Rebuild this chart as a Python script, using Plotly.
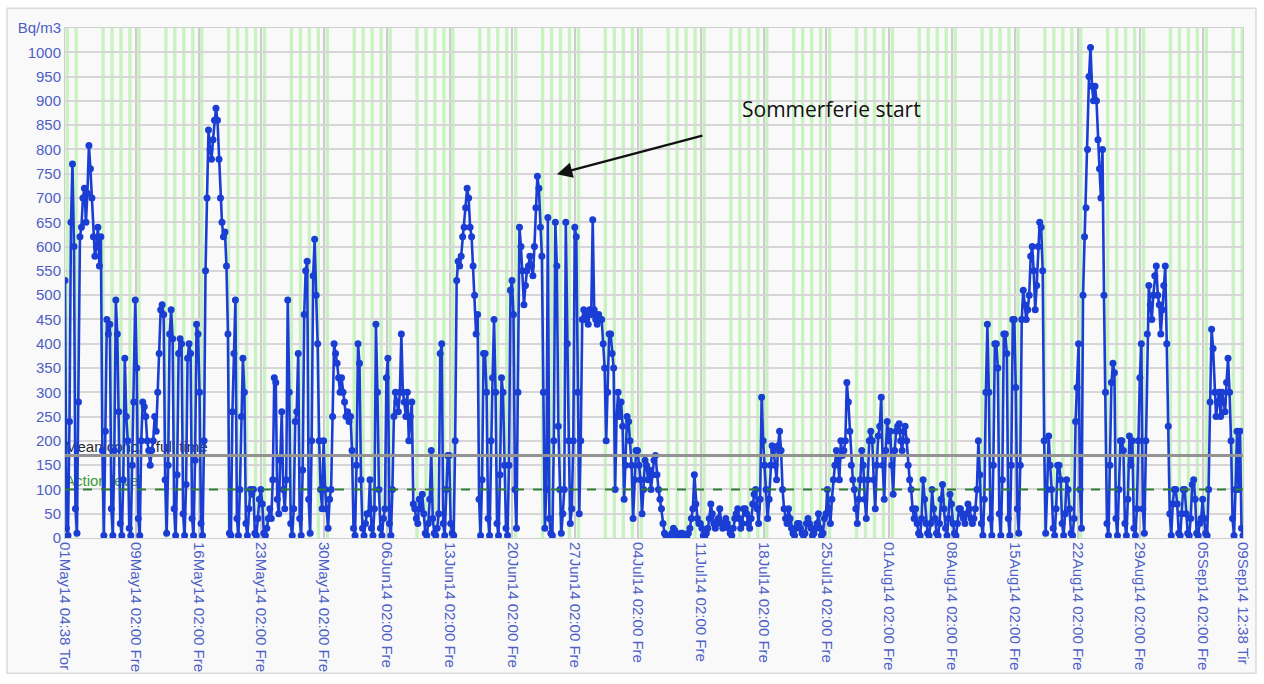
import pandas as pd
import plotly.graph_objects as go

# Radon concentration (Bq/m3), one reading every 4 hours at hh:38
# (00:38, 04:38, 08:38, 12:38, 16:38, 20:38), one list per calendar week.
week_18 = [530, 20, 5, 240, 650,               # Thu 1 May from 04:38
           770, 600, 60, 10, 280, 620,
           640, 700, 720, 650, 710, 808,
           760, 700, 620, 580, 600, 640]
week_19 = [560, 620, 180, 5, 220, 450,
           420, 440, 60, 5, 180, 490,
           420, 260, 30, 5, 120, 370,
           250, 200, 20, 5, 150, 280,
           490, 350, 40, 5, 200, 280,
           270, 250, 200, 180, 150, 180,
           200, 250, 220, 300, 380, 470]
week_20 = [480, 460, 120, 10, 150, 420,
           470, 410, 60, 5, 130, 380,
           410, 400, 50, 5, 110, 370,
           400, 380, 40, 5, 160, 440,
           420, 300, 30, 5, 200, 550,
           700, 840, 800, 780, 820, 860,
           885, 860, 780, 700, 650, 620]
week_21 = [630, 560, 420, 10, 5, 260,
           380, 490, 40, 5, 100, 250,
           370, 300, 30, 5, 60, 100,
           90, 100, 10, 5, 40, 80,
           100, 70, 10, 5, 20, 40,
           60, 40, 120, 330, 320, 80,
           50, 160, 260, 100, 60, 120]
week_22 = [490, 300, 30, 5, 60, 240,
           260, 380, 40, 5, 140, 460,
           550, 570, 80, 10, 200, 540,
           615, 500, 400, 200, 100, 60,
           200, 100, 60, 20, 80, 100,
           250, 400, 380, 360, 330, 300,
           330, 300, 280, 250, 260, 240]
week_23 = [250, 180, 20, 5, 150, 400,
           360, 120, 20, 5, 30, 50,
           50, 120, 20, 5, 60, 440,
           300, 100, 20, 5, 40, 60,
           330, 370, 30, 5, 100, 250,
           300, 280, 260, 300, 420, 300,
           280, 250, 300, 200, 250, 280]
week_24 = [70, 60, 40, 30, 80, 60,
           90, 50, 10, 5, 30, 80,
           180, 40, 10, 5, 20, 50,
           380, 400, 30, 5, 100, 170,
           170, 30, 10, 5, 200, 530,
           570, 560, 580, 620, 640, 680,
           720, 700, 640, 620, 560, 500]
week_25 = [420, 460, 80, 5, 120, 380,
           380, 300, 40, 5, 200, 330,
           450, 300, 30, 5, 130, 330,
           300, 150, 20, 5, 150, 510,
           530, 460, 100, 20, 300, 640,
           600, 550, 480, 520, 550, 560,
           580, 560, 540, 600, 680, 745]
week_26 = [720, 640, 580, 300, 20, 100,
           660, 40, 10, 5, 200, 650,
           560, 230, 100, 10, 50, 100,
           650, 400, 200, 30, 60, 200,
           640, 620, 300, 50, 200, 450,
           470, 450, 460, 440, 470, 460,
           655, 470, 450, 440, 460, 450]
week_27 = [450, 400, 350, 200, 300, 420,
           420, 380, 350, 100, 250, 300,
           250, 280, 230, 80, 150, 250,
           240, 200, 150, 40, 120, 180,
           180, 150, 120, 50, 100, 160,
           150, 120, 140, 100, 130, 160,
           170, 130, 100, 80, 60, 30]
week_28 = [10, 5, 0, 0, 5, 10,
           20, 15, 5, 0, 5, 10,
           10, 5, 0, 0, 10, 20,
           40, 60, 130, 70, 40, 30,
           30, 20, 5, 0, 10, 20,
           40, 70, 50, 30, 20, 30,
           40, 60, 30, 20, 30, 40]
week_29 = [30, 20, 10, 5, 20, 40,
           50, 60, 40, 20, 30, 60,
           60, 50, 30, 20, 40, 70,
           90, 100, 60, 30, 80, 290,
           200, 150, 100, 40, 80, 150,
           190, 180, 150, 120, 190, 220,
           180, 100, 60, 40, 30, 60]
week_30 = [40, 20, 10, 5, 20, 30,
           30, 20, 10, 5, 10, 30,
           40, 30, 20, 5, 10, 20,
           30, 50, 20, 5, 10, 40,
           50, 100, 60, 30, 80, 120,
           150, 180, 160, 120, 200, 170,
           180, 200, 320, 280, 220, 150]
week_31 = [120, 100, 60, 30, 80, 120,
           180, 150, 80, 40, 120, 200,
           220, 200, 120, 60, 150, 210,
           230, 290, 150, 80, 180, 240,
           200, 220, 150, 90, 180, 220,
           230, 235, 200, 180, 220, 230,
           200, 150, 120, 100, 60, 40]
week_32 = [60, 30, 10, 5, 40, 120,
           80, 30, 10, 5, 30, 100,
           60, 40, 10, 5, 30, 80,
           110, 60, 20, 5, 40, 90,
           70, 30, 10, 5, 30, 60,
           60, 50, 40, 30, 50, 70,
           60, 40, 30, 40, 60, 100]
week_33 = [200, 130, 30, 5, 80, 300,
           440, 300, 40, 5, 150, 400,
           400, 350, 50, 5, 120, 420,
           420, 380, 40, 5, 150, 450,
           450, 310, 60, 10, 150, 450,
           510, 480, 450, 470, 500, 580,
           600, 550, 470, 520, 600, 650]
week_34 = [640, 550, 200, 10, 100, 210,
           150, 100, 20, 5, 60, 150,
           150, 120, 30, 5, 50, 120,
           100, 60, 10, 5, 40, 240,
           310, 400, 100, 20, 500, 620,
           680, 800, 950, 1010, 930, 900,
           930, 900, 820, 760, 700, 800]
week_35 = [500, 300, 30, 5, 150, 320,
           360, 340, 40, 5, 100, 200,
           200, 180, 30, 5, 80, 210,
           150, 200, 20, 5, 60, 200,
           330, 400, 60, 10, 200, 420,
           520, 480, 450, 500, 540, 560,
           500, 480, 420, 470, 520, 560]
week_36 = [400, 230, 50, 5, 70, 100,
           100, 70, 10, 5, 50, 100,
           100, 50, 10, 5, 40, 110,
           120, 80, 10, 5, 30, 40,
           80, 40, 10, 5, 100, 280,
           430, 390, 300, 250, 280, 300,
           250, 300, 280, 260, 320, 370]
week_37 = [300, 200, 40, 5, 100, 220,
           100, 220, 20, 5]                    # Tue 9 Sep until 12:38

weeks = [week_18, week_19, week_20, week_21, week_22, week_23, week_24,
         week_25, week_26, week_27, week_28, week_29, week_30, week_31,
         week_32, week_33, week_34, week_35, week_36, week_37]

# Reference levels
mean_conc = 170
action_level = 100

# Ventilation / occupied hours on weekdays
vent_on_hour = 6
vent_off_hour = 15

# Axis labels
tick_times = ["2014-05-01 04:38", "2014-05-09 02:00", "2014-05-16 02:00",
              "2014-05-23 02:00", "2014-05-30 02:00", "2014-06-06 02:00",
              "2014-06-13 02:00", "2014-06-20 02:00", "2014-06-27 02:00",
              "2014-07-04 02:00", "2014-07-11 02:00", "2014-07-18 02:00",
              "2014-07-25 02:00", "2014-08-01 02:00", "2014-08-08 02:00",
              "2014-08-15 02:00", "2014-08-22 02:00", "2014-08-29 02:00",
              "2014-09-05 02:00", "2014-09-09 12:38"]
tick_labels = ["01May14 04:38 Tor", "09May14 02:00 Fre", "16May14 02:00 Fre",
               "23May14 02:00 Fre", "30May14 02:00 Fre", "06Jun14 02:00 Fre",
               "13Jun14 02:00 Fre", "20Jun14 02:00 Fre", "27Jun14 02:00 Fre",
               "04Jul14 02:00 Fre", "11Jul14 02:00 Fre", "18Jul14 02:00 Fre",
               "25Jul14 02:00 Fre", "01Aug14 02:00 Fre", "08Aug14 02:00 Fre",
               "15Aug14 02:00 Fre", "22Aug14 02:00 Fre", "29Aug14 02:00 Fre",
               "05Sep14 02:00 Fre", "09Sep14 12:38 Tir"]
y_ticks = list(range(0, 1001, 50)) + [1050]
y_labels = [str(v) for v in range(0, 1001, 50)] + ["Bq/m3"]

values = [v for wk in weeks for v in wk]
times = pd.date_range("2014-05-01 04:38", periods=len(values), freq="4h")
t_start, t_end = times[0], times[-1]

BLUE = "#1a3ed4"
LABEL_BLUE = "#4d5fc6"
FONT = "Liberation Sans, Arial, sans-serif"

fig = go.Figure()

# Level captions sit underneath the measurements
fig.add_trace(go.Scatter(
    x=[t_start, t_start], y=[mean_conc, action_level],
    mode="text", text=["Mean conc. - full time", "Action level"],
    textposition="top right",
    textfont=dict(family=FONT, size=15, color=["#2a2a2a", "#3c9a3c"]),
    hoverinfo="skip", showlegend=False, cliponaxis=False,
))

fig.add_trace(go.Scatter(
    x=times, y=values, mode="lines+markers",
    line=dict(color=BLUE, width=2.6),
    marker=dict(color=BLUE, size=7),
    showlegend=False,
))

shapes = []
# Outer panel
shapes.append(dict(type="rect", xref="paper", yref="paper",
                   x0=-0.0492, x1=1.011, y0=-0.265, y1=1.0387,
                   fillcolor="#f9f9f9", line=dict(color="#dadada", width=1.5),
                   layer="below"))
# Weekday ventilation periods
for day in pd.date_range("2014-05-01", "2014-09-09", freq="D"):
    if day.weekday() < 5:
        shapes.append(dict(type="rect", xref="x", yref="y domain",
                           x0=day + pd.Timedelta(hours=vent_on_hour),
                           x1=day + pd.Timedelta(hours=vent_off_hour),
                           y0=0, y1=1, fillcolor="#c8f3c1",
                           line=dict(width=0), layer="below"))
# Mean and action level lines
shapes.append(dict(type="line", xref="x domain", yref="y", x0=0, x1=1,
                   y0=mean_conc, y1=mean_conc,
                   line=dict(color="#939393", width=3), layer="above"))
shapes.append(dict(type="line", xref="x domain", yref="y", x0=0, x1=1,
                   y0=action_level, y1=action_level,
                   line=dict(color="#2f7d32", width=2, dash="dash"),
                   layer="above"))

fig.update_layout(
    width=1264, height=684,
    margin=dict(l=65, r=19, t=28, b=139),
    paper_bgcolor="white", plot_bgcolor="#fefcfd",
    shapes=shapes,
    font=dict(family=FONT, size=15, color=LABEL_BLUE),
    annotations=[
        dict(x="2014-07-25 16:38", y=884, xref="x", yref="y",
             text="Sommerferie start", showarrow=False,
             font=dict(family="Open Sans, sans-serif", size=21, color="#111111")),
        dict(x="2014-06-25 00:50", y=749, xref="x", yref="y", text="",
             showarrow=True, ax=147, ay=-39, axref="pixel", ayref="pixel",
             arrowhead=2, arrowsize=1.4, arrowwidth=2.2, arrowcolor="#111111"),
    ],
)
fig.update_xaxes(
    type="date", range=[t_start, t_end],
    tickvals=tick_times, ticktext=tick_labels, tickangle=90,
    tickfont=dict(family=FONT, size=15, color=LABEL_BLUE),
    showgrid=True, gridcolor="#cccccc", gridwidth=1.5,
    showline=True, linecolor="#cfcfcf", linewidth=1, mirror=True,
    ticks="", zeroline=False,
)
fig.update_yaxes(
    range=[0, 1050], tickvals=y_ticks, ticktext=y_labels,
    tickfont=dict(family=FONT, size=15, color=LABEL_BLUE),
    showgrid=True, gridcolor="#d6d6d6", gridwidth=1.5,
    showline=True, linecolor="#cfcfcf", linewidth=1, mirror=True,
    ticks="", zeroline=False,
)

fig.write_html("out.html", config={"displayModeBar": False})
